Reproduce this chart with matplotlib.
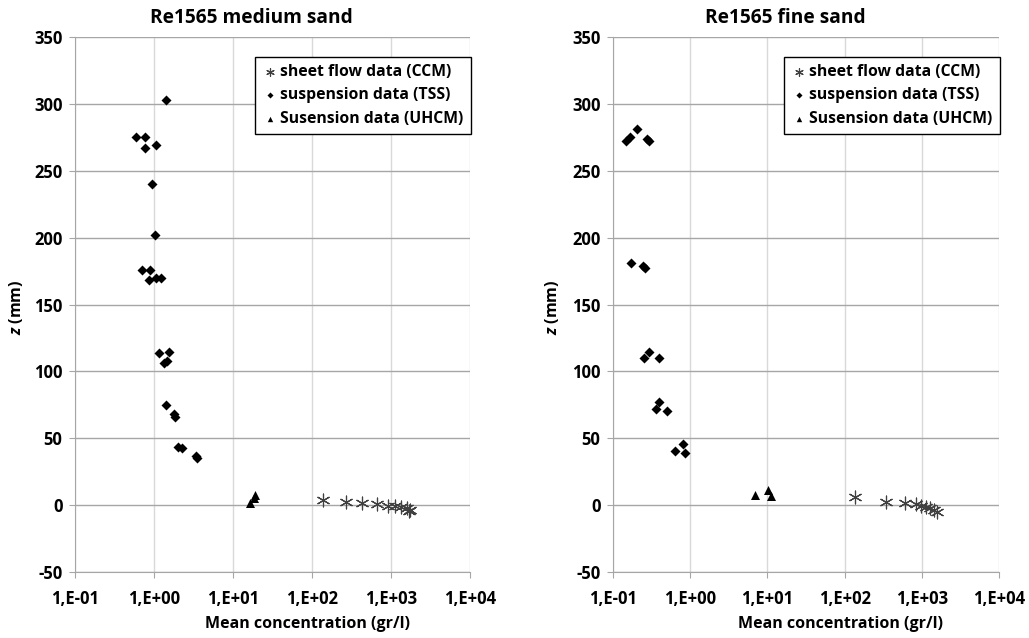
import numpy as np
import matplotlib; matplotlib.use('Agg')
import matplotlib.pyplot as plt
from matplotlib.ticker import FuncFormatter, FixedLocator, NullLocator

plt.rcParams['font.family'] = ['Open Sans', 'DejaVu Sans']
plt.rcParams['font.weight'] = 'bold'
plt.rcParams['axes.unicode_minus'] = False
plt.rcParams['mathtext.fontset'] = 'custom'
plt.rcParams['mathtext.it'] = 'Open Sans:bold:italic'

# ── Data: Re1565 medium sand ─────────────────────────────────────────────────
med_ccm_c = [139, 267, 433, 660, 925, 1136, 1340, 1611, 1738, 1680]
med_ccm_z = [3.5, 2.2, 1.5, 1.0, -0.7, -0.7, -1.5, -2.5, -3.7, -4.5]

med_tss_c = [1.41, 0.60, 0.76, 0.77, 1.05, 0.94, 1.02, 0.70, 0.88, 0.86, 1.06, 1.23,
             1.15, 1.53, 1.35, 1.45, 1.41, 1.81, 1.86, 2.03, 2.28, 3.4, 3.5]
med_tss_z = [303, 275, 275.6, 267, 269, 240, 202, 176, 176, 168, 170, 170,
             114, 114.5, 106, 107.5, 75, 68, 66, 43.7, 43, 36.7, 35.4]

med_uhcm_c = [16.4, 18.6, 19.1]
med_uhcm_z = [1.7, 5.5, 7.3]

# ── Data: Re1565 fine sand ───────────────────────────────────────────────────
fine_ccm_c = [138, 342, 612, 849, 980, 1120, 1260, 1420, 1585]
fine_ccm_z = [6.0, 2.5, 1.7, 0.5, -0.7, -1.5, -2.5, -3.5, -5.2]

fine_tss_c = [0.146, 0.166, 0.204, 0.273, 0.295, 0.169, 0.242, 0.257,
              0.254, 0.292, 0.394, 0.40, 0.36, 0.50, 0.634, 0.813, 0.855]
fine_tss_z = [272, 275, 281, 274, 272.6, 181, 178.5, 177,
              110, 114.8, 110, 77.4, 72, 70.4, 40.4, 45.5, 39.2]

fine_uhcm_c = [6.9, 10.2, 11.1]
fine_uhcm_z = [7.5, 11.0, 6.7]

titles = ['Re1565 medium sand', 'Re1565 fine sand']
x_ticks = [1e-1, 1e0, 1e1, 1e2, 1e3, 1e4]
y_ticks = list(range(-50, 351, 50))
labels = ['sheet flow data (CCM)', 'suspension data (TSS)', 'Susension data (UHCM)']

panels = [
    (med_ccm_c, med_ccm_z, med_tss_c, med_tss_z, med_uhcm_c, med_uhcm_z),
    (fine_ccm_c, fine_ccm_z, fine_tss_c, fine_tss_z, fine_uhcm_c, fine_uhcm_z),
]

W, H = 1029, 638
fig = plt.figure(figsize=(W / 100, H / 100), dpi=100)
boxes = [(75, 37, 470, 572), (613, 37, 999, 572)]   # pixel box of each plot area
ylabel_px = [25, 561]                                 # baseline x of the y label

def log_fmt(v, pos):
    return f"1,E{int(round(np.log10(v))):+03d}"

for (x0, y0, x1, y1), yl_x, title, (cc, cz, tc, tz, uc, uz) in zip(boxes, ylabel_px, titles, panels):
    ax = fig.add_axes([x0 / W, 1 - y1 / H, (x1 - x0) / W, (y1 - y0) / H])
    ax.set_xscale('log')
    ax.set_xlim(1e-1, 1e4)
    ax.set_ylim(-50, 350)

    ax.scatter(cc, cz, marker=(6, 2, 0), s=85, color='#404040', linewidths=0.85,
               label=labels[0], zorder=3)
    ax.scatter(tc, tz, marker='D', s=26, color='black', linewidths=0,
               label=labels[1], zorder=3)
    ax.scatter(uc, uz, marker='^', s=42, color='black', linewidths=0,
               label=labels[2], zorder=3)

    # Excel-like grid
    ax.xaxis.set_major_locator(FixedLocator(x_ticks))
    ax.xaxis.set_minor_locator(NullLocator())
    ax.xaxis.set_major_formatter(FuncFormatter(log_fmt))
    ax.set_yticks(y_ticks)
    ax.grid(axis='y', color='#a6a6a6', lw=1.0, zorder=0)
    ax.grid(axis='x', color='#d9d9d9', lw=1.0, zorder=0)
    ax.set_axisbelow(True)
    for side in ('top', 'right'):
        ax.spines[side].set_visible(False)
    for side in ('left', 'bottom'):
        ax.spines[side].set_color('#a6a6a6')
    ax.tick_params(axis='both', direction='out', length=4, color='#a6a6a6',
                   labelsize=12, pad=5)
    ax.tick_params(axis='x', pad=9)

    ax.set_title(title, fontsize=13.8, fontweight='bold', x=0.447, pad=10)
    ax.set_xlabel('Mean concentration (gr/l)', fontsize=11.5, fontweight='bold')
    ax.xaxis.set_label_coords(0.589, -0.082)
    ax.set_ylabel('$z$ (mm)', fontsize=11.5, fontweight='bold')
    ax.yaxis.set_label_coords((yl_x - x0) / (x1 - x0), 0.495)

    leg = ax.legend(loc='upper right', bbox_to_anchor=(1.002, 0.963), frameon=True,
                    fancybox=False, edgecolor='black', framealpha=1, borderaxespad=0,
                    prop={'weight': 'bold', 'size': 11.3}, handletextpad=0.15,
                    handlelength=1.0, borderpad=0.45, labelspacing=0.48,
                    markerscale=0.6)
    leg.get_frame().set_linewidth(1.0)

fig.savefig('out.png', dpi=100)
